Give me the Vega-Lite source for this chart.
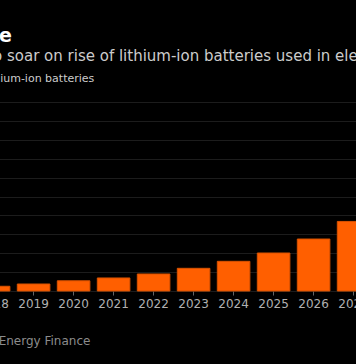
{
  "$schema": "https://vega.github.io/schema/vega-lite/v6.json",
  "width": 356,
  "height": 189,
  "autosize": {"type": "none"},
  "padding": {"top": 102, "left": 0, "right": 0, "bottom": 73},
  "background": "#000000",
  "title": {
    "text": "Cobalt Demand Set to Surge",
    "anchor": "start",
    "frame": "group",
    "align": "right",
    "dx": 12,
    "font": "DejaVu Sans",
    "fontSize": 19,
    "fontWeight": "bold",
    "color": "#ffffff",
    "offset": 3
  },
  "config": {
    "view": {"stroke": null},
    "font": "DejaVu Sans"
  },
  "data": {
    "values": [
      {"year": "2018", "demand": 2.5, "series": "Cobalt demand from lithium-ion batteries"},
      {"year": "2019", "demand": 3.7, "series": "Cobalt demand from lithium-ion batteries"},
      {"year": "2020", "demand": 5.4, "series": "Cobalt demand from lithium-ion batteries"},
      {"year": "2021", "demand": 6.9, "series": "Cobalt demand from lithium-ion batteries"},
      {"year": "2022", "demand": 9.0, "series": "Cobalt demand from lithium-ion batteries"},
      {"year": "2023", "demand": 12.0, "series": "Cobalt demand from lithium-ion batteries"},
      {"year": "2024", "demand": 15.7, "series": "Cobalt demand from lithium-ion batteries"},
      {"year": "2025", "demand": 20.1, "series": "Cobalt demand from lithium-ion batteries"},
      {"year": "2026", "demand": 27.5, "series": "Cobalt demand from lithium-ion batteries"},
      {"year": "2027", "demand": 36.8, "series": "Cobalt demand from lithium-ion batteries"}
    ]
  },
  "mark": {"type": "bar", "stroke": "#d85200", "strokeWidth": 1},
  "encoding": {
    "x": {
      "field": "year",
      "type": "ordinal",
      "scale": {"range": [-26.4, 373.6], "paddingInner": 0.185, "paddingOuter": 0.0925},
      "axis": {
        "labelAngle": 0,
        "labelColor": "#b0b0b0",
        "labelFontSize": 12,
        "labelPadding": 3,
        "tickColor": "#666666",
        "tickSize": 4,
        "domain": false,
        "title": "Source: Bloomberg New Energy Finance",
        "titleColor": "#8c8c8c",
        "titleFontSize": 12,
        "titleFontWeight": "normal",
        "titleAlign": "left",
        "titleBaseline": "alphabetic",
        "titleX": -150,
        "titleY": 53
      }
    },
    "y": {
      "field": "demand",
      "type": "quantitative",
      "scale": {"domain": [0, 100]},
      "axis": {
        "values": [0, 10, 20, 30, 40, 50, 60, 70, 80, 90, 100],
        "labels": false,
        "ticks": false,
        "domain": false,
        "title": null,
        "gridColor": "#1c1c1c",
        "gridWidth": 1
      }
    },
    "color": {
      "field": "series",
      "type": "nominal",
      "scale": {"range": ["#ff5f00"]},
      "legend": {
        "orient": "none",
        "legendX": -202,
        "legendY": -53,
        "title": "Demand for cobalt is set to soar on rise of lithium-ion batteries used in electric vehicles",
        "titleFontSize": 15,
        "titleFontWeight": "normal",
        "titleColor": "#cccccc",
        "titleLimit": 2000,
        "titlePadding": 9,
        "symbolType": "square",
        "symbolSize": 100,
        "symbolStrokeWidth": 0,
        "symbolOpacity": 1,
        "labelFontSize": 11,
        "labelColor": "#cccccc",
        "labelLimit": 1000,
        "labelOffset": 57
      }
    }
  }
}
